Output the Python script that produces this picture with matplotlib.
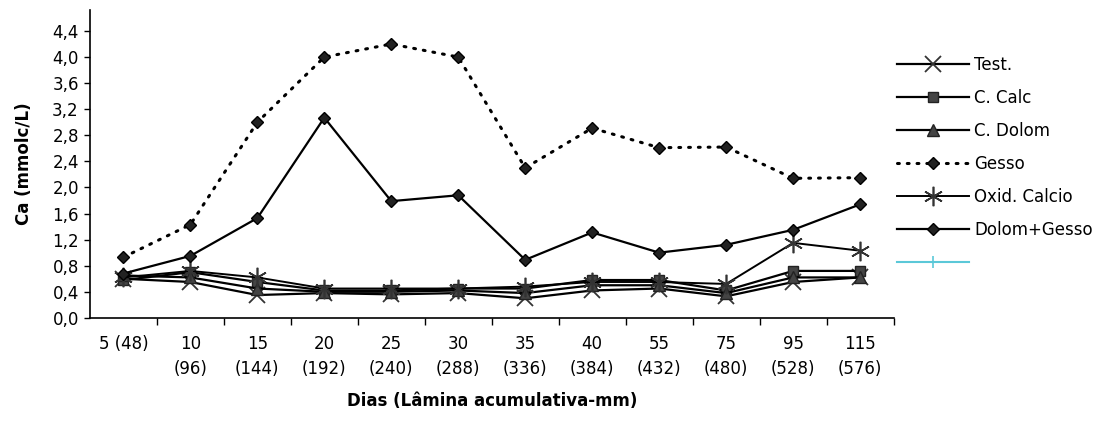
import matplotlib
matplotlib.use("Agg")
import matplotlib.pyplot as plt
from matplotlib.lines import Line2D
from matplotlib.ticker import FuncFormatter, FixedLocator

plt.rcParams['font.family'] = ['DejaVu Sans']

categories = ["5 (48)", "10\n(96)", "15\n(144)", "20\n(192)", "25\n(240)", "30\n(288)",
              "35\n(336)", "40\n(384)", "55\n(432)", "75\n(480)", "95\n(528)", "115\n(576)"]

test = [0.60, 0.55, 0.35, 0.38, 0.36, 0.38, 0.30, 0.42, 0.45, 0.33, 0.55, 0.62]
c_calc = [0.58, 0.70, 0.55, 0.42, 0.42, 0.45, 0.45, 0.58, 0.58, 0.42, 0.72, 0.72]
c_dolom = [0.65, 0.62, 0.45, 0.40, 0.40, 0.42, 0.38, 0.50, 0.50, 0.38, 0.62, 0.62]
gesso = [0.93, 1.43, 3.00, 4.00, 4.20, 4.00, 2.30, 2.91, 2.61, 2.62, 2.14, 2.15]
oxid_calcio = [0.62, 0.72, 0.62, 0.45, 0.45, 0.45, 0.48, 0.55, 0.55, 0.52, 1.15, 1.03]
dolom_gesso = [0.68, 0.95, 1.53, 3.07, 1.79, 1.88, 0.89, 1.31, 1.00, 1.12, 1.35, 1.74]

x = list(range(len(categories)))

fig = plt.figure(figsize=(11.1, 4.21), dpi=100)
ax = fig.add_axes([0.081, 0.245, 0.724, 0.731])

ax.plot(x, test, color='black', lw=1.6, marker='x', ms=11, mew=1.3, mec='#333333',
        label='Test.')
ax.plot(x, c_calc, color='black', lw=1.6, marker='s', ms=7, mfc='#444444', mec='#222222',
        label='C. Calc')
ax.plot(x, c_dolom, color='black', lw=1.6, marker='^', ms=8, mfc='#444444', mec='#222222',
        label='C. Dolom')
ax.plot(x, gesso, color='black', lw=2.2, ls=(0, (0.6, 2.6)), dash_capstyle='round',
        marker='D', ms=6.5, mfc='#222222', mec='black', label='Gesso')
ax.plot(x, oxid_calcio, color='black', lw=1.4, marker=(6, 2, 0), ms=14, mew=1.2,
        mec='#333333', label='Oxid. Calcio')
ax.plot(x, dolom_gesso, color='black', lw=1.6, marker='D', ms=6, mfc='#222222',
        mec='black', label='Dolom+Gesso')

ax.set_xlim(-0.5, len(categories) - 0.5)
ax.set_ylim(0, 4.72)

ax.xaxis.set_major_locator(FixedLocator(x))
ax.set_xticklabels(categories, va='top', linespacing=1.55)
ax.xaxis.set_minor_locator(FixedLocator([i + 0.5 for i in x]))
ax.tick_params(axis='x', which='major', length=0, pad=12)
ax.tick_params(axis='x', which='minor', length=5, width=1, direction='out')

yticks = [i * 0.4 for i in range(12)]
ax.yaxis.set_major_locator(FixedLocator(yticks))
ax.yaxis.set_major_formatter(FuncFormatter(lambda v, p: f"{v:.1f}".replace('.', ',')))
ax.tick_params(axis='y', length=4, width=1, direction='out', pad=4)

for lab in ax.get_xticklabels() + ax.get_yticklabels():
    lab.set_fontsize(12)

for s in ['top', 'right']:
    ax.spines[s].set_visible(False)
for s in ['left', 'bottom']:
    ax.spines[s].set_linewidth(1.2)

ax.set_ylabel('Ca (mmolc/L)', fontsize=12, fontweight='bold', labelpad=14)
ax.set_xlabel('Dias (Lâmina acumulativa-mm)', fontsize=12, fontweight='bold', labelpad=10)

handles, labels = ax.get_legend_handles_labels()
handles.append(Line2D([], [], color='#5bc8d8', lw=1.5, marker='|', ms=8, mew=1.2))
labels.append(' ')
fig.legend(handles, labels, loc='upper left', bbox_to_anchor=(0.795, 0.902),
           frameon=False, fontsize=12, handlelength=4.3, handletextpad=0.3,
           labelspacing=0.9)

fig.savefig('out.png', dpi=100)
